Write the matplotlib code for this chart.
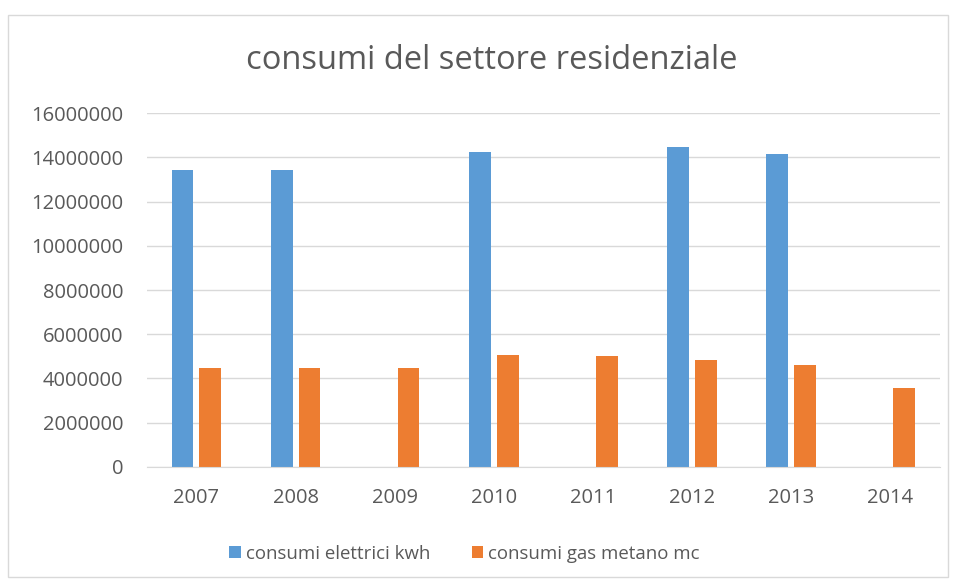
"""
Consumi del settore residenziale: elettrico vs gas metano.
"""

import matplotlib.pyplot as plt
import numpy as np
from matplotlib.patches import Rectangle

years = ["2007", "2008", "2009", "2010", "2011", "2012", "2013", "2014"]
elettrici_kwh = [13410000, 13410000, np.nan, 14240000, np.nan, 14460000, 14130000, np.nan]
gas_metano_mc = [4490000, 4490000, 4490000, 5040000, 5000000, 4820000, 4610000, 3590000]
y_ticks = [0, 2000000, 4000000, 6000000, 8000000, 10000000, 12000000, 14000000, 16000000]

BLUE = "#5b9bd5"
ORANGE = "#ed7d31"
TEXT = "#595959"
GRID = "#d9d9d9"


def main() -> None:
    plt.rcParams["font.family"] = ["Open Sans", "DejaVu Sans"]

    fig = plt.figure(figsize=(9.54, 5.80), dpi=100)
    ax = fig.add_axes([0.154, 0.195, 0.831, 0.61])

    x = np.arange(len(years))
    width = 0.22
    offset = 0.14
    ax.bar(x - offset, elettrici_kwh, width, color=BLUE, label="consumi elettrici kwh")
    ax.bar(x + offset, gas_metano_mc, width, color=ORANGE, label="consumi gas metano mc")

    ax.set_xlim(-0.5, len(years) - 0.5)
    ax.set_ylim(0, 16000000)
    ax.set_xticks(x, years)
    ax.set_yticks(y_ticks, [str(v) for v in y_ticks])
    ax.tick_params(axis="both", length=0, colors=TEXT, labelsize=14.5)
    ax.tick_params(axis="x", pad=15)
    ax.tick_params(axis="y", pad=17)

    ax.grid(axis="y", color=GRID, linewidth=1)
    ax.set_axisbelow(True)
    for side in ["top", "right", "left"]:
        ax.spines[side].set_visible(False)
    ax.spines["bottom"].set_color(GRID)

    fig.text(0.515, 0.895, "consumi del settore residenziale", ha="center", va="center",
             fontsize=23.5, color=TEXT)

    fig.legend(loc="center", bbox_to_anchor=(0.487, 0.045), ncol=2, frameon=False,
               fontsize=13.4, labelcolor=TEXT, handlelength=0.6, handleheight=0.6,
               handletextpad=0.3, columnspacing=2.2)

    fig.patches.append(Rectangle((8 / 954, 0.005), 0.985, 0.97, transform=fig.transFigure,
                                 fill=False, edgecolor=GRID, linewidth=1))

    fig.savefig("out.png", dpi=100)
    plt.close(fig)


if __name__ == "__main__":
    main()
